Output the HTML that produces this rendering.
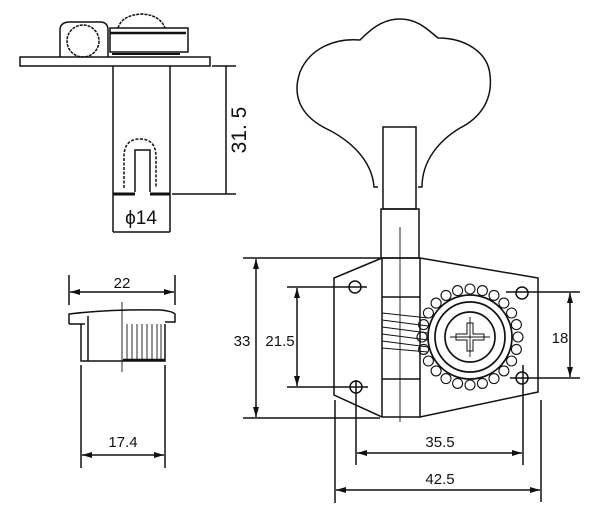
<!DOCTYPE html>
<html><head><style>html,body{margin:0;padding:0;background:#fff}svg{display:block}</style></head>
<body>
<svg width="600" height="532" viewBox="0 0 600 532" xmlns="http://www.w3.org/2000/svg" font-family="Liberation Sans, Arial, sans-serif" fill="none" stroke="#111" stroke-width="1.5">
<defs>
<marker id="a" viewBox="0 0 10 6" refX="10" refY="3" markerWidth="14" markerHeight="6" orient="auto-start-reverse" markerUnits="userSpaceOnUse"><path d="M0,0 L10,3 L0,6 z" fill="#111" stroke="none"/></marker>
</defs>
<!-- top-left view -->
<rect x="20" y="57" width="190" height="9"/>
<path d="M60,57 V30 Q60,22 70,22 H100 Q108,22 108,30 V57"/>
<circle cx="83" cy="41" r="16" stroke-dasharray="3,1"/>
<path d="M118,28 Q122,15 142,14 Q160,15 165,28" stroke-dasharray="3,1"/>
<rect x="110" y="28" width="78" height="24"/>
<line x1="110" y1="33" x2="186" y2="33" stroke-width="2.5"/>
<line x1="112" y1="54" x2="180" y2="54" stroke-width="2"/>
<line x1="113" y1="66" x2="113" y2="232"/>
<line x1="170" y1="66" x2="170" y2="232"/>
<path d="M124,188 V157 Q124,139 140,139 Q156,139 156,157 V188" stroke-dasharray="3,1.5"/>
<path d="M135,192 V150 H150 V192"/>
<line x1="113" y1="194" x2="135" y2="194" stroke-width="3"/>
<line x1="150" y1="194" x2="170" y2="194" stroke-width="3"/>
<line x1="212" y1="66" x2="236" y2="66"/>
<line x1="172" y1="194" x2="236" y2="194"/>
<line x1="226" y1="66" x2="226" y2="194"/>
<text x="0" y="0" transform="translate(246,130) rotate(-90)" font-size="21" fill="#111" stroke="none" text-anchor="middle">31. 5</text>
<text x="141" y="224" font-size="19" fill="#111" stroke="none" text-anchor="middle">ϕ14</text>
<line x1="113" y1="232" x2="170" y2="232"/>
<!-- cap -->
<line x1="69" y1="275" x2="69" y2="305"/>
<line x1="175" y1="275" x2="175" y2="305"/>
<line x1="70" y1="292" x2="174" y2="292" marker-start="url(#a)" marker-end="url(#a)"/>
<text x="122" y="288" font-size="15" fill="#111" stroke="none" text-anchor="middle">22</text>
<path d="M69,324 V314 Q110,309 160,310 Q172,311 175,314 V322 H165"/>
<line x1="69" y1="324" x2="85" y2="324"/>
<path d="M81,324 V361 H165 V324"/>
<line x1="88" y1="316" x2="88" y2="361"/>
<g stroke-width="0.9"><line x1="127" y1="324" x2="127" y2="361"/><line x1="132" y1="324" x2="132" y2="361"/><line x1="137" y1="324" x2="137" y2="361"/><line x1="142" y1="324" x2="142" y2="361"/><line x1="147" y1="324" x2="147" y2="361"/><line x1="152" y1="324" x2="152" y2="361"/><line x1="157" y1="324" x2="157" y2="361"/><line x1="161" y1="324" x2="161" y2="361"/></g>
<line x1="123" y1="360" x2="165" y2="360" stroke-width="2.5"/>
<line x1="122" y1="302" x2="122" y2="372" stroke-width="0.9"/>
<line x1="81" y1="365" x2="81" y2="468"/>
<line x1="165" y1="365" x2="165" y2="468"/>
<line x1="82" y1="455" x2="164" y2="455" marker-start="url(#a)" marker-end="url(#a)"/>
<text x="123" y="447" font-size="15" fill="#111" stroke="none" text-anchor="middle">17.4</text>
<!-- knob -->
<path d="M378,187 H374 C372,160 350,140 325,128 C300,115 292,95 300,72 C310,48 335,38 360,40 C370,30 382,19 400,19 C418,19 428,30 438,38 C465,38 488,52 490,75 C493,100 480,118 460,128 C440,140 422,160 422,187 H418"/>
<rect x="383" y="127" width="33" height="82"/>
<rect x="381" y="209" width="38" height="49"/>
<line x1="400" y1="227" x2="400" y2="422" stroke-width="0.9"/>
<!-- plate -->
<path d="M382,258 L334,278 V395 L382,417 H420 L538,392 V278 L420,258 Z"/>
<line x1="382" y1="258" x2="382" y2="417"/>
<line x1="420" y1="258" x2="420" y2="417"/>
<line x1="382" y1="297" x2="420" y2="297"/>
<line x1="382" y1="379" x2="420" y2="379"/>
<g stroke-width="1"><path d="M382,313 L428,318"/><path d="M382,320 L428,326"/><path d="M382,327 L428,333"/><path d="M382,334 L428,340"/><path d="M382,341 L428,347"/><path d="M382,348 L428,352"/></g>
<circle cx="355" cy="287" r="6"/><circle cx="356" cy="387" r="6"/><circle cx="522" cy="293" r="6"/><circle cx="522" cy="378" r="6"/>
<!-- gear -->
<g stroke-width="1.1">
<circle cx="470" cy="289" r="5"/><circle cx="482.4" cy="290.6" r="5"/><circle cx="494" cy="295.4" r="5"/><circle cx="503.9" cy="303.1" r="5"/><circle cx="511.6" cy="313" r="5"/><circle cx="516.4" cy="324.6" r="5"/><circle cx="518" cy="337" r="5"/><circle cx="516.4" cy="349.4" r="5"/><circle cx="511.6" cy="361" r="5"/><circle cx="503.9" cy="370.9" r="5"/><circle cx="494" cy="378.6" r="5"/><circle cx="482.4" cy="383.4" r="5"/><circle cx="470" cy="385" r="5"/><circle cx="457.6" cy="383.4" r="5"/><circle cx="446" cy="378.6" r="5"/><circle cx="436.1" cy="370.9" r="5"/><circle cx="428.4" cy="361" r="5"/><circle cx="436.1" cy="303.1" r="5"/><circle cx="446" cy="295.4" r="5"/><circle cx="457.6" cy="290.6" r="5"/><circle cx="428.4" cy="313" r="5"/><circle cx="423.6" cy="324.6" r="5"/><circle cx="422" cy="337" r="5"/><circle cx="423.6" cy="349.4" r="5"/>
</g>
<circle cx="470" cy="337" r="42" fill="#fff" stroke-width="1.7"/>
<circle cx="470" cy="337" r="35" stroke-width="1.7"/>
<circle cx="470" cy="337" r="25" stroke-width="1.7"/>
<path d="M467,323 H473 V334 H484 V340 H473 V351 H467 V340 H456 V334 H467 Z" stroke-width="1"/>
<line x1="450" y1="337" x2="490" y2="337" stroke-width="0.9"/><line x1="470" y1="317" x2="470" y2="357" stroke-width="0.9"/>
<!-- dims right -->
<line x1="243" y1="258" x2="380" y2="258"/>
<line x1="243" y1="418" x2="380" y2="418"/>
<line x1="256" y1="259" x2="256" y2="417" marker-start="url(#a)" marker-end="url(#a)"/>
<text x="242" y="346" font-size="15" fill="#111" stroke="none" text-anchor="middle">33</text>
<line x1="287" y1="287" x2="367" y2="287"/>
<line x1="287" y1="387" x2="368" y2="387"/>
<line x1="297" y1="288" x2="297" y2="386" marker-start="url(#a)" marker-end="url(#a)"/>
<text x="280" y="346" font-size="15" fill="#111" stroke="none" text-anchor="middle">21.5</text>
<line x1="506" y1="292" x2="580" y2="292"/>
<line x1="510" y1="378" x2="580" y2="378"/>
<line x1="570" y1="293" x2="570" y2="377" marker-start="url(#a)" marker-end="url(#a)"/>
<text x="560" y="343" font-size="15" fill="#111" stroke="none" text-anchor="middle">18</text>
<line x1="356" y1="380" x2="356" y2="465"/>
<line x1="523" y1="365" x2="523" y2="465"/>
<line x1="335" y1="400" x2="335" y2="503"/>
<line x1="541" y1="400" x2="541" y2="502"/>
<line x1="357" y1="453" x2="522" y2="453" marker-start="url(#a)" marker-end="url(#a)"/>
<text x="440" y="447" font-size="15" fill="#111" stroke="none" text-anchor="middle">35.5</text>
<line x1="336" y1="490" x2="540" y2="490" marker-start="url(#a)" marker-end="url(#a)"/>
<text x="440" y="484" font-size="15" fill="#111" stroke="none" text-anchor="middle">42.5</text>
</svg>
</body></html>
